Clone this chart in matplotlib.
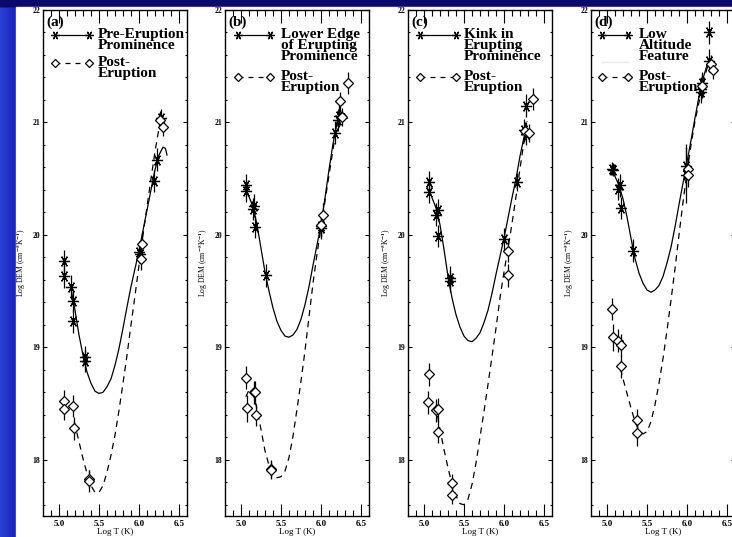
import numpy as np
import matplotlib
matplotlib.use("Agg")
import matplotlib.pyplot as plt
from matplotlib.patches import Rectangle

plt.rcParams['font.family'] = ['Liberation Serif', 'DejaVu Serif']
plt.rcParams['font.weight'] = 'bold'
plt.rcParams['mathtext.fontset'] = 'stix'

# --- measured points (Log T, Log DEM, error) ---
pre_a_x = [5.06, 5.06, 5.15, 5.18, 5.18, 5.33, 5.33, 6.00, 6.01, 6.19, 6.22, 6.28]
pre_a_y = [19.77, 19.63, 19.54, 19.41, 19.23, 18.91, 18.88, 19.85, 19.83, 20.48, 20.67, 21.04]
pre_a_e = [0.10, 0.10, 0.10, 0.10, 0.10, 0.10, 0.10, 0.10, 0.08, 0.10, 0.10, 0.08]
post_a_x = [5.06, 5.06, 5.17, 5.19, 5.37, 5.37, 6.04, 6.03, 6.26, 6.30]
post_a_y = [18.52, 18.45, 18.48, 18.28, 17.83, 17.81, 19.92, 19.79, 21.02, 20.96]
post_a_e = [0.10, 0.10, 0.10, 0.10, 0.08, 0.10, 0.10, 0.10, 0.08, 0.08]

pre_b_x = [5.06, 5.06, 5.16, 5.15, 5.17, 5.31, 6.00, 6.00, 6.17, 6.21, 6.23]
pre_b_y = [20.44, 20.39, 20.26, 20.23, 20.07, 19.64, 20.08, 20.06, 20.91, 21.02, 21.06]
pre_b_e = [0.10, 0.10, 0.10, 0.10, 0.10, 0.10, 0.10, 0.10, 0.10, 0.10, 0.10]
post_b_x = [5.06, 5.08, 5.16, 5.18, 5.19, 5.38, 5.38, 6.02, 6.00, 6.24, 6.26, 6.34]
post_b_y = [18.73, 18.46, 18.60, 18.60, 18.40, 17.92, 17.91, 20.18, 20.09, 21.19, 21.05, 21.35]
post_b_e = [0.10, 0.12, 0.10, 0.10, 0.10, 0.08, 0.08, 0.10, 0.10, 0.08, 0.08, 0.10]

pre_c_x = [5.06, 5.06, 5.17, 5.15, 5.17, 5.32, 5.32, 6.00, 6.16, 6.25, 6.28, 6.27]
pre_c_y = [20.47, 20.38, 20.22, 20.18, 19.99, 19.62, 19.59, 19.96, 20.47, 20.93, 20.90, 21.15]
pre_c_e = [0.10, 0.10, 0.10, 0.10, 0.10, 0.10, 0.10, 0.10, 0.08, 0.10, 0.10, 0.10]
post_c_x = [5.06, 5.05, 5.15, 5.18, 5.17, 5.35, 5.35, 6.05, 6.05, 6.26, 6.31, 6.36]
post_c_y = [18.76, 18.51, 18.44, 18.45, 18.25, 17.79, 17.69, 19.86, 19.64, 20.92, 20.91, 21.21]
post_c_e = [0.10, 0.10, 0.10, 0.10, 0.10, 0.08, 0.08, 0.10, 0.10, 0.08, 0.08, 0.10]

pre_d_x = [5.06, 5.07, 5.16, 5.14, 5.17, 5.32, 5.99, 5.99, 6.17, 6.19, 6.18, 6.28, 6.27]
pre_d_y = [20.59, 20.58, 20.44, 20.41, 20.24, 19.86, 20.61, 20.53, 21.30, 21.35, 21.27, 21.55, 21.80]
pre_d_e = [0.06, 0.06, 0.10, 0.10, 0.10, 0.10, 0.20, 0.25, 0.10, 0.10, 0.10, 0.10, 0.10]
post_d_x = [5.06, 5.07, 5.14, 5.18, 5.17, 5.37, 5.37, 6.01, 6.01, 6.19, 6.30, 6.32]
post_d_y = [19.34, 19.09, 19.06, 19.02, 18.83, 18.35, 18.24, 20.59, 20.53, 21.32, 21.52, 21.47]
post_d_e = [0.10, 0.12, 0.10, 0.10, 0.10, 0.10, 0.12, 0.10, 0.10, 0.10, 0.08, 0.08]

# --- DEM model curves ---
fit_a_x = [5.15, 5.20, 5.25, 5.30, 5.35, 5.40, 5.45, 5.50, 5.55, 5.60, 5.65, 5.70, 5.75,
           5.80, 5.85, 5.90, 5.95, 6.00, 6.05, 6.10, 6.15, 6.20, 6.25, 6.30, 6.33, 6.35]
fit_a_y = [19.52, 19.33, 19.11, 18.93, 18.78, 18.68, 18.61, 18.59, 18.60, 18.65, 18.72, 18.84, 18.99,
           19.17, 19.36, 19.54, 19.70, 19.86, 20.04, 20.22, 20.40, 20.58, 20.71, 20.78, 20.77, 20.71]
dash_a_x = [5.19, 5.25, 5.30, 5.35, 5.40, 5.45, 5.50, 5.55, 5.60, 5.65, 5.70, 5.75, 5.80,
            5.85, 5.90, 5.95, 6.00, 6.05, 6.10, 6.15, 6.20, 6.25, 6.28]
dash_a_y = [18.34, 18.16, 18.01, 17.88, 17.77, 17.71, 17.71, 17.77, 17.89, 18.04, 18.22, 18.44, 18.68,
            18.93, 19.20, 19.46, 19.73, 20.00, 20.25, 20.50, 20.74, 20.95, 21.04]

fit_b_x = [5.07, 5.10, 5.15, 5.20, 5.25, 5.30, 5.35, 5.40, 5.45, 5.50, 5.55, 5.60, 5.65, 5.70,
           5.75, 5.80, 5.85, 5.90, 5.95, 6.00, 6.05, 6.10, 6.15, 6.20, 6.25, 6.29, 6.33]
fit_b_y = [20.38, 20.34, 20.25, 20.09, 19.88, 19.67, 19.50, 19.35, 19.23, 19.15, 19.10, 19.09, 19.11, 19.16,
           19.25, 19.38, 19.54, 19.73, 19.91, 20.09, 20.33, 20.58, 20.81, 20.99, 21.08, 21.08, 21.04]
dash_b_x = [5.06, 5.10, 5.15, 5.20, 5.25, 5.30, 5.35, 5.40, 5.45, 5.50, 5.55, 5.60, 5.65, 5.70,
            5.75, 5.80, 5.85, 5.90, 5.95, 6.00, 6.05, 6.10, 6.15, 6.20, 6.25, 6.28]
dash_b_y = [18.56, 18.62, 18.60, 18.45, 18.27, 18.08, 17.95, 17.87, 17.84, 17.85, 17.90, 18.02, 18.21, 18.45,
            18.70, 18.97, 19.27, 19.57, 19.83, 20.07, 20.30, 20.53, 20.76, 20.97, 21.12, 21.18]

fit_c_x = [5.10, 5.15, 5.20, 5.25, 5.30, 5.35, 5.40, 5.45, 5.50, 5.55, 5.60, 5.65, 5.70, 5.75,
           5.80, 5.85, 5.90, 5.95, 6.00, 6.05, 6.10, 6.15, 6.20, 6.25, 6.28, 6.31, 6.33]
fit_c_y = [20.33, 20.24, 20.09, 19.87, 19.63, 19.44, 19.29, 19.18, 19.10, 19.06, 19.05, 19.08, 19.13, 19.22,
           19.33, 19.48, 19.65, 19.81, 19.97, 20.15, 20.33, 20.50, 20.70, 20.87, 20.92, 20.92, 20.89]
dash_c_x = [5.17, 5.20, 5.25, 5.30, 5.35, 5.40, 5.45, 5.50, 5.55, 5.60, 5.65, 5.70, 5.75, 5.80,
            5.85, 5.90, 5.95, 6.00, 6.05, 6.10, 6.15, 6.20, 6.25, 6.29]
dash_c_y = [18.39, 18.27, 18.09, 17.93, 17.78, 17.68, 17.61, 17.60, 17.65, 17.78, 17.97, 18.20, 18.43, 18.67,
            18.92, 19.17, 19.44, 19.67, 19.88, 20.10, 20.34, 20.59, 20.83, 21.01]

fit_d_x = [5.08, 5.10, 5.15, 5.20, 5.25, 5.30, 5.35, 5.40, 5.45, 5.50, 5.55, 5.60, 5.65, 5.70,
           5.75, 5.80, 5.85, 5.90, 5.95, 6.00, 6.05, 6.10, 6.15, 6.20, 6.25, 6.28, 6.31]
fit_d_y = [20.55, 20.52, 20.44, 20.32, 20.16, 19.97, 19.79, 19.66, 19.57, 19.51, 19.49, 19.51, 19.55, 19.63,
           19.75, 19.89, 20.07, 20.27, 20.46, 20.65, 20.84, 21.04, 21.23, 21.39, 21.51, 21.55, 21.55]
dash_d_x = [5.17, 5.20, 5.25, 5.30, 5.35, 5.40, 5.45, 5.50, 5.55, 5.60, 5.65, 5.70, 5.75, 5.80,
            5.85, 5.90, 5.95, 6.00, 6.05, 6.10, 6.15, 6.20, 6.25, 6.29]
dash_d_y = [18.81, 18.72, 18.59, 18.46, 18.34, 18.26, 18.23, 18.25, 18.34, 18.49, 18.68, 18.90, 19.15, 19.42,
            19.70, 20.00, 20.29, 20.56, 20.80, 21.01, 21.18, 21.35, 21.48, 21.57]

panel_tags = ["(a)", "(b)", "(c)", "(d)"]
pre_labels = ["Pre-Eruption\nProminence", "Lower Edge\nof Erupting\nProminence",
              "Kink in\nErupting\nProminence", "Low\nAltitude\nFeature"]
post_label = "Post-\nEruption"

panels = [
    (pre_a_x, pre_a_y, pre_a_e, post_a_x, post_a_y, post_a_e, fit_a_x, fit_a_y, dash_a_x, dash_a_y),
    (pre_b_x, pre_b_y, pre_b_e, post_b_x, post_b_y, post_b_e, fit_b_x, fit_b_y, dash_b_x, dash_b_y),
    (pre_c_x, pre_c_y, pre_c_e, post_c_x, post_c_y, post_c_e, fit_c_x, fit_c_y, dash_c_x, dash_c_y),
    (pre_d_x, pre_d_y, pre_d_e, post_d_x, post_d_y, post_d_e, fit_d_x, fit_d_y, dash_d_x, dash_d_y),
]

# legend geometry per panel: marker x0, x1, text x, star row y, post row y
legend_pos = [
    (0.083, 0.32, 0.38, 0.951, 0.895),
    (0.090, 0.31, 0.39, 0.951, 0.868),
    (0.083, 0.33, 0.39, 0.951, 0.868),
    (0.076, 0.26, 0.33, 0.951, 0.868),
]

STAR = (6, 2, 90)

fig = plt.figure(figsize=(7.32, 5.37), dpi=100)

# slide-style blue background: lighter strip on the left, dark band on top
H, W = 537, 732
yy, xx = np.mgrid[0:H, 0:W]
left_glow = np.clip(1 - xx / 16.0, 0, 1)
top_dark = np.clip((8 - yy) / 2.0, 0, 1)
bg = np.zeros((H, W, 3))
bg[..., 0] = 0.10 + 0.06 * left_glow
bg[..., 1] = 0.12 + 0.14 * left_glow
bg[..., 2] = 0.72 + 0.12 * left_glow
bg = bg * (1 - top_dark[..., None]) + np.array([0.04, 0.04, 0.42]) * top_dark[..., None]
bg_ax = fig.add_axes([0, 0, 1, 1])
bg_ax.imshow(bg, aspect='auto', extent=[0, 1, 0, 1], zorder=0)
bg_ax.axis('off')

# white sheet holding the four plots
bg_ax.add_patch(Rectangle((16 / W, 0), 1, (H - 7) / H, transform=bg_ax.transAxes,
                          color='white', zorder=1))

lefts = [43, 225, 408, 591]
for i, (px, py, pe, qx, qy, qe, fx, fy, dx, dy) in enumerate(panels):
    ax = fig.add_axes([lefts[i] / 732, 21 / 537, 144 / 732, 506 / 537])
    ax.set_facecolor('white')

    ax.plot(fx, fy, '-', color='black', lw=0.9)
    ax.plot(dx, dy, '--', color='black', lw=0.9, dashes=(5, 4))
    ax.errorbar(px, py, yerr=pe, fmt='none', ecolor='black', elinewidth=0.9)
    ax.plot(px, py, ls='none', marker=STAR, ms=8, mec='black', mew=0.9)
    ax.errorbar(qx, qy, yerr=qe, fmt='none', ecolor='black', elinewidth=0.9)
    ax.plot(qx, qy, ls='none', marker='D', ms=5.5, mfc='white', mec='black', mew=0.9)

    ax.set_xlim(4.8, 6.6)
    ax.set_ylim(17.5, 22)
    ax.set_xticks([5.0, 5.5, 6.0, 6.5])
    ax.set_xticks(np.arange(4.9, 6.6, 0.1), minor=True)
    ax.set_yticks([18, 19, 20, 21, 22])
    ax.set_yticks(np.arange(17.6, 22.0, 0.2), minor=True)
    ax.tick_params(which='both', direction='in', top=True, right=True, width=0.8)
    ax.tick_params(axis='x', which='major', length=9, labelsize=6.5, pad=3)
    ax.tick_params(axis='x', which='minor', length=4.5)
    ax.tick_params(axis='y', which='major', length=3, labelsize=5.5, pad=2)
    ax.tick_params(axis='y', which='minor', length=1.5)
    for s in ax.spines.values():
        s.set_linewidth(1.0)
    ax.set_xlabel("Log T (K)", fontsize=6.5, labelpad=0)
    ax.set_ylabel(r"Log DEM (cm$^{\mathbf{-5}}$K$^{\mathbf{-1}}$)", fontsize=5.5, labelpad=3)

    # panel tag and hand-drawn legend
    ax.text(0.025, 0.99, panel_tags[i], transform=ax.transAxes, fontsize=11,
            fontweight='bold', va='top', ha='left')
    x0, x1, xt, ys, yp = legend_pos[i]
    ax.plot([x0, x1], [ys, ys], '-', color='black', lw=0.9, marker=STAR, ms=6,
            mew=0.9, transform=ax.transAxes, clip_on=False)
    ax.text(xt, ys + 0.014, pre_labels[i], transform=ax.transAxes, fontsize=11,
            fontweight='bold', va='top', ha='left', linespacing=0.82)
    if i == 3:
        ax.plot([x0, x1], [0.897, 0.897], '-', color='#e8e8e8', lw=1.0,
                transform=ax.transAxes)
    ax.plot([x0, x1], [yp, yp], '--', color='black', lw=0.9, dashes=(4, 4), marker='D',
            ms=4.5, mfc='white', mec='black', mew=0.9, transform=ax.transAxes)
    ax.text(xt, yp + 0.014, post_label, transform=ax.transAxes, fontsize=11,
            fontweight='bold', va='top', ha='left', linespacing=0.82)

fig.savefig("out.png", dpi=100)
